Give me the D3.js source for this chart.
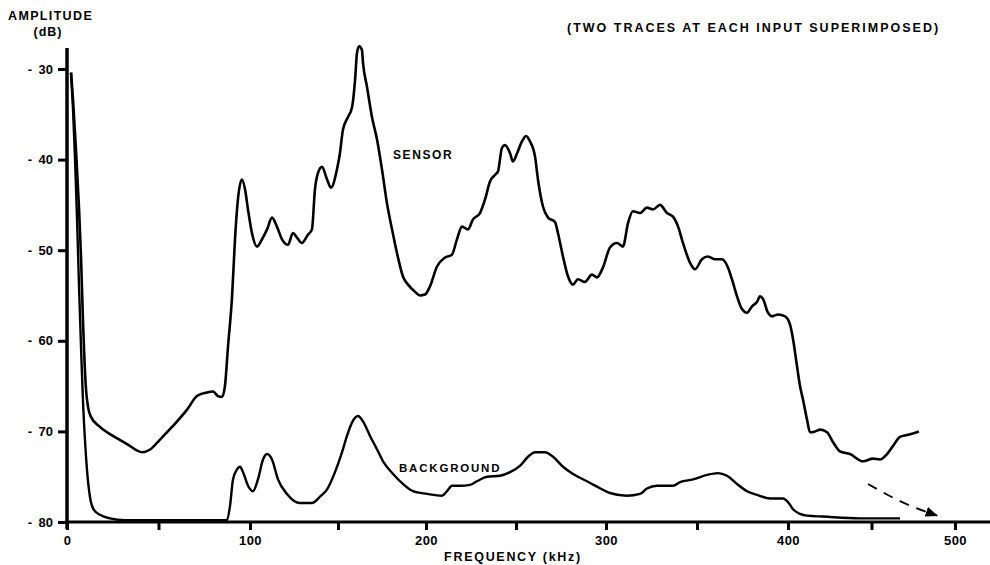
<!DOCTYPE html>
<html>
<head>
<meta charset="utf-8">
<script src="https://cdn.jsdelivr.net/npm/d3@7"></script>
<style>
  html, body { margin: 0; padding: 0; background: #fff; }
  svg { display: block; font-family: 'Liberation Sans', Arial, Helvetica, sans-serif; font-weight: bold; }
</style>
</head>
<body>
<div id="chart"></div>
<script>
'use strict';

// values: [frequency kHz, amplitude dB]
var sensorTrace = [
  [2.2, -30.4], [3.3, -33.4], [4.9, -38.9], [6.6, -45.5], [7.7, -51.0], [8.7, -57.6], [9.3, -60.9],
  [10.4, -65.4], [11.5, -67.3], [13.1, -68.4], [18, -69.5], [25.1, -70.5], [32.8, -71.4], [41, -72.3],
  [45.4, -72.0], [50.8, -70.9], [57.9, -69.4], [65.6, -67.6], [71, -66.1], [76.5, -65.7], [79.8, -65.6],
  [82.5, -66.1], [84.7, -66.2], [86.3, -65.0], [88, -60.6], [90.2, -55.1], [91.8, -48.8], [93.4, -44.4],
  [95.6, -42.2], [97.3, -43.3], [98.9, -45.5], [101.1, -48.1], [104, -49.6], [106.8, -48.8], [109.7, -47.7],
  [112.5, -46.4], [115.3, -47.4], [118.2, -48.8], [121.6, -49.4], [124.4, -48.1], [126.7, -48.6],
  [129.5, -49.2], [132.9, -48.3], [135.2, -47.7], [136.9, -43.3], [138.6, -41.5], [140.9, -40.8],
  [143.8, -42.2], [146, -43.1], [149.4, -41.1], [151.1, -39.3], [152.8, -36.7], [155.7, -35.3],
  [158, -34.2], [159.7, -31.2], [160.8, -28.2], [162, -27.5], [163.6, -27.9], [164.2, -29.3],
  [166.5, -32.0], [169.3, -35.3], [172.2, -37.8], [175, -41.1], [177.8, -44.8], [180.7, -47.7],
  [183.5, -50.3], [186.9, -52.9], [189.8, -53.8], [193.8, -54.6], [196.6, -55.0], [199.4, -54.9],
  [202.2, -54.0], [206.1, -51.8], [210.6, -50.8], [214.4, -50.5], [217.2, -48.8], [220, -47.4],
  [223.3, -47.7], [226.1, -46.6], [230, -45.9], [232.8, -44.4], [235.6, -42.4], [238.3, -41.7],
  [240, -41.3], [242.2, -38.7], [243.9, -38.4], [246.7, -39.3], [248.3, -40.2], [250.6, -39.3],
  [253.3, -38.0], [255.6, -37.4], [257.8, -38.0], [260.6, -39.7], [262.2, -42.2], [265, -45.2],
  [267.8, -46.4], [271.7, -46.9], [273.3, -48.1], [276.1, -50.7], [278.9, -52.9], [281.7, -53.8],
  [284.4, -53.2], [288.3, -53.5], [292.2, -52.7], [295, -53.0], [298.3, -51.9], [302.2, -49.7],
  [306, -49.2], [309.3, -49.6], [312.1, -47.0], [314.8, -45.7], [318.7, -45.9], [322.5, -45.3],
  [325.8, -45.5], [329.7, -45.0], [333.5, -45.9], [336.8, -46.3], [339.6, -47.4], [342.3, -49.2],
  [346.2, -51.4], [348.9, -52.1], [352.7, -51.0], [356, -50.7], [359.9, -51.0], [363.7, -51.0],
  [367, -51.9], [369.2, -53.2], [372, -55.1], [374.7, -56.5], [377.5, -56.9], [380.2, -56.2],
  [383, -55.7], [384.6, -55.1], [386.3, -55.4], [389, -56.9], [391.2, -57.3], [394.5, -57.1],
  [398.4, -57.3], [401.2, -58.2], [403, -59.8], [405.4, -62.8], [407.2, -65.0], [409, -66.5],
  [411.4, -68.7], [413.2, -70.1], [416.2, -70.0], [419.2, -69.8], [423.4, -70.1], [427, -71.2],
  [431.1, -72.2], [437.1, -72.5], [444.9, -73.3], [450.9, -73.0], [455.1, -73.1], [459.3, -72.5],
  [462.9, -71.6], [467.1, -70.6], [471.3, -70.4], [478.4, -70.0]
];

var backgroundTrace = [
  [2.2, -30.4], [3.3, -34.5], [4.4, -40.0], [5.5, -46.6], [6.6, -54.2], [7.7, -60.9], [8.7, -66.5],
  [9.8, -70.9], [10.9, -74.2], [12.6, -77.3], [14.8, -78.7], [18, -79.2], [23.5, -79.6], [31.7, -79.8],
  [60, -79.8], [87.4, -79.8], [89.1, -78.2], [90.7, -75.3], [92.9, -74.2], [94.5, -73.9], [96.2, -74.5],
  [98.9, -76.0], [101.7, -76.6], [104.5, -75.3], [107.4, -73.1], [109.7, -72.5], [112.5, -73.1],
  [115.9, -75.3], [121, -76.9], [128.4, -77.9], [135.2, -77.9], [139.8, -77.2], [143.8, -76.4],
  [148.3, -74.5], [152.3, -72.3], [155.1, -70.5], [158, -69.0], [161.4, -68.3], [164.2, -68.9],
  [168.2, -70.5], [172.2, -72.0], [175.6, -73.3], [181.3, -74.7], [186.9, -75.8], [192.6, -76.6],
  [200.6, -76.9], [208.9, -77.1], [211.7, -76.6], [214.4, -76.0], [218.9, -76.0], [224.4, -75.9],
  [228.3, -75.5], [233.9, -75.0], [241.1, -74.9], [246.7, -74.5], [252.2, -73.8], [256.7, -72.8],
  [260.6, -72.3], [266.1, -72.3], [270.6, -72.8], [276.1, -73.9], [281.7, -74.7], [289.4, -75.5],
  [295, -76.1], [302.2, -76.8], [311.5, -77.1], [318.7, -76.9], [322.5, -76.3], [328, -76.0],
  [333.5, -76.0], [336.8, -76.0], [340.7, -75.6], [347.8, -75.3], [355.5, -74.8], [361.5, -74.6],
  [366.5, -74.9], [372, -75.8], [377.5, -76.6], [383, -77.0], [390.1, -77.4], [397.3, -77.4],
  [400, -77.8], [403, -78.6], [407.2, -79.1], [411.4, -79.3], [421, -79.4], [443.1, -79.6], [467.1, -79.6]
];

// dashed arrow drawn by hand on the original, pointing at the axis
var arrowPath = [[447.9, -75.8], [467.1, -77.7], [489.2, -79.3]];

var xMajorTicks = [0, 100, 200, 300, 400, 500];
var xMinorTicks = [50, 150, 250, 350, 450];
var yTicks = [-30, -40, -50, -60, -70, -80];

var W = 990, H = 565;

var svg = d3.select('#chart').append('svg')
  .attr('width', W)
  .attr('height', H)
  .attr('viewBox', [0, 0, W, H]);

// the scan is slightly stretched, so the frequency axis is piecewise
var x = d3.scaleLinear()
  .domain(xMajorTicks)
  .range([67, 250, 426, 606, 788, 955]);

var y = d3.scaleLinear()
  .domain([-80, -30])
  .range([522, 69]);

var line = d3.line()
  .x(function (d) { return x(d[0]); })
  .y(function (d) { return y(d[1]); })
  .curve(d3.curveMonotoneX);

var tickFont = "'Liberation Sans', Arial, sans-serif";

// y axis
var yAxis = svg.append('g')
  .attr('transform', 'translate(' + x(0) + ',0)')
  .call(d3.axisLeft(y)
    .tickValues(yTicks)
    .tickSize(9)
    .tickPadding(5)
    .tickFormat(function (d) { return '-\u2002' + Math.abs(d); }));
yAxis.select('.domain').remove();
yAxis.selectAll('.tick line').attr('stroke', '#000').attr('stroke-width', 3);
yAxis.selectAll('.tick text')
  .attr('fill', '#000')
  .style('font-size', '13px')
  .style('font-weight', 'bold')
  .style('font-family', tickFont);

// x axis
var xAxis = svg.append('g')
  .attr('transform', 'translate(0,' + y(-80) + ')')
  .call(d3.axisBottom(x)
    .tickValues(xMajorTicks.concat(xMinorTicks))
    .tickSize(8)
    .tickPadding(6)
    .tickFormat(function (d) { return d % 100 === 0 ? d : ''; }));
xAxis.select('.domain').remove();
xAxis.selectAll('.tick line').attr('stroke', '#000').attr('stroke-width', 3);
xAxis.selectAll('.tick text')
  .attr('fill', '#000')
  .attr('letter-spacing', 0.5)
  .style('font-size', '13px')
  .style('font-weight', 'bold')
  .style('font-family', tickFont);

svg.append('line')
  .attr('x1', x(0)).attr('x2', x(0))
  .attr('y1', 48).attr('y2', y(-80) + 7)
  .attr('stroke', '#000')
  .attr('stroke-width', 3.5);

svg.append('line')
  .attr('x1', x(0) - 2).attr('x2', W)
  .attr('y1', y(-80)).attr('y2', y(-80))
  .attr('stroke', '#000')
  .attr('stroke-width', 3);

// traces
svg.append('path')
  .datum(backgroundTrace)
  .attr('d', line)
  .attr('fill', 'none')
  .attr('stroke', '#000')
  .attr('stroke-width', 2.4)
  .attr('stroke-linejoin', 'round');

svg.append('path')
  .datum(sensorTrace)
  .attr('d', line)
  .attr('fill', 'none')
  .attr('stroke', '#000')
  .attr('stroke-width', 2.6)
  .attr('stroke-linejoin', 'round');

// arrow
svg.append('defs').append('marker')
  .attr('id', 'head')
  .attr('viewBox', '0 0 10 10')
  .attr('refX', 9).attr('refY', 5)
  .attr('markerWidth', 7).attr('markerHeight', 7)
  .attr('orient', 'auto')
  .append('path')
  .attr('d', 'M0,1 L10,5 L0,9 Z')
  .attr('fill', '#000');

svg.append('path')
  .datum(arrowPath)
  .attr('d', line)
  .attr('fill', 'none')
  .attr('stroke', '#000')
  .attr('stroke-width', 1.8)
  .attr('stroke-dasharray', '10,8')
  .attr('marker-end', 'url(#head)');

// labels
function label(txt, px, py, size, spacing, anchor) {
  svg.append('text')
    .attr('x', px)
    .attr('y', py)
    .attr('text-anchor', anchor || 'start')
    .attr('font-size', size)
    .attr('letter-spacing', spacing)
    .attr('fill', '#000')
    .text(txt);
}

label('AMPLITUDE', 8, 20, 12.5, 1.35);
label('(dB)', 48, 36, 12.5, 1, 'middle');
label('(TWO TRACES AT EACH INPUT SUPERIMPOSED)', 567, 32, 12.5, 2.0);
label('SENSOR', 393, 159, 12, 1.6);
label('BACKGROUND', 399, 472, 11.5, 1.8);
label('FREQUENCY (kHz)', 513, 561, 12.5, 1.7, 'middle');
</script>
</body>
</html>
